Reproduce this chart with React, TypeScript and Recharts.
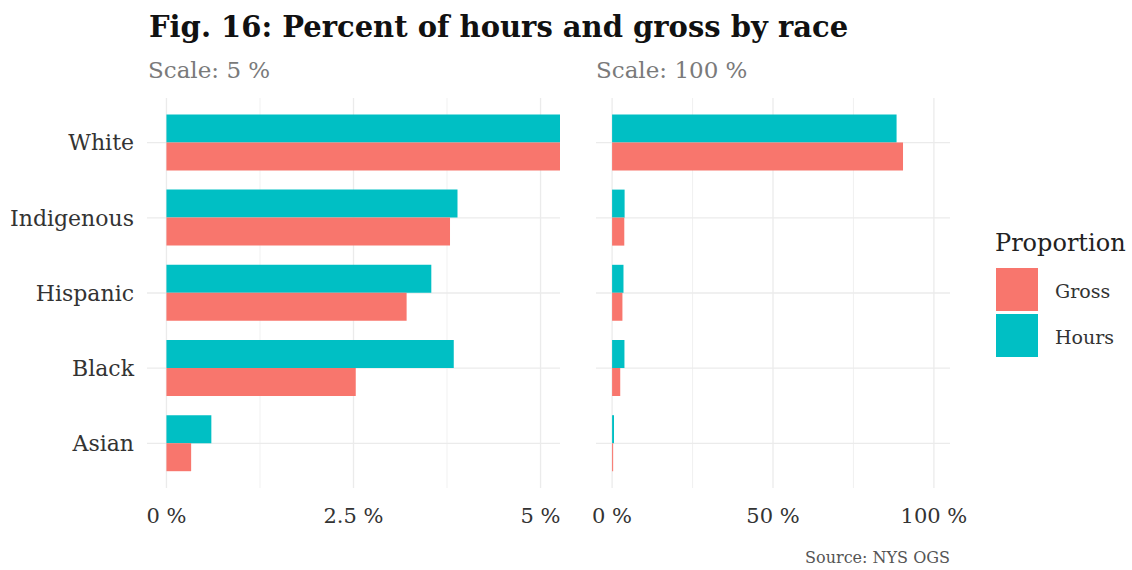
import React from "react";
import { BarChart, Bar, XAxis, YAxis, CartesianGrid } from "recharts";

const races = ["White", "Indigenous", "Hispanic", "Black", "Asian"];
const hours = [88.4, 3.89, 3.54, 3.84, 0.6];
const gross = [90.4, 3.79, 3.21, 2.53, 0.33];

const leftMajor = [0, 2.5, 5];
const leftMinor = [1.25, 3.75];
const rightMajor = [0, 50, 100];
const rightMinor = [25, 75];

const data = races.map((race, i) => ({ race, Hours: hours[i], Gross: gross[i] }));

const FONT = "'DejaVu Serif', serif";
const GROSS = "#F8766D";
const HOURS = "#00BFC4";
const GRID = "#ebebeb";

const pct = (v: number) => `${v} %`;

function Panel({
  width,
  left,
  leftPad,
  rightPad,
  domain,
  major,
  minor,
  showY,
}: {
  width: number;
  left: number;
  leftPad: number;
  rightPad: number;
  domain: [number, number];
  major: number[];
  minor: number[];
  showY: boolean;
}) {
  return (
    <div style={{ position: "absolute", left, top: 98 }}>
      <BarChart
        width={width}
        height={440}
        data={data}
        layout="vertical"
        margin={{ top: 0, right: rightPad, bottom: 0, left: leftPad }}
        barCategoryGap="12.5%"
        barGap={0}
      >
        <CartesianGrid
          xAxisId="minor"
          stroke={GRID}
          strokeWidth={0.7}
          horizontal={false}
          syncWithTicks
        />
        <CartesianGrid xAxisId="main" stroke={GRID} strokeWidth={1.3} syncWithTicks />
        <XAxis xAxisId="minor" type="number" domain={domain} ticks={minor} allowDataOverflow hide />
        <XAxis
          xAxisId="main"
          type="number"
          domain={domain}
          ticks={major}
          allowDataOverflow
          axisLine={false}
          tickLine={false}
          tickSize={0}
          tickMargin={20}
          height={50}
          interval={0}
          tickFormatter={pct}
          tick={{ fill: "#333", fontSize: 21, fontFamily: FONT }}
        />
        <YAxis
          type="category"
          dataKey="race"
          width={showY ? 147 : 0}
          hide={!showY}
          axisLine={false}
          tickLine={false}
          tickSize={0}
          tickMargin={13}
          padding={{ top: 7, bottom: 7 }}
          tick={{ fill: "#333", fontSize: 22, fontFamily: FONT }}
        />
        <Bar xAxisId="main" dataKey="Hours" fill={HOURS} isAnimationActive={false} />
        <Bar xAxisId="main" dataKey="Gross" fill={GROSS} isAnimationActive={false} />
      </BarChart>
    </div>
  );
}

export default function App() {
  return (
    <div
      style={{
        position: "absolute",
        left: 0,
        top: 0,
        width: 1132,
        height: 570,
        background: "#fff",
        fontFamily: FONT,
        overflow: "hidden",
      }}
    >
      <div
        style={{
          position: "absolute",
          left: 149,
          top: 10,
          fontSize: 29,
          fontWeight: "bold",
          color: "#111",
          whiteSpace: "nowrap",
        }}
      >
        Fig. 16: Percent of hours and gross by race
      </div>
      <div style={{ position: "absolute", left: 148, top: 57, fontSize: 23, color: "#7a7a7a" }}>
        Scale: 5 %
      </div>
      <div style={{ position: "absolute", left: 596, top: 57, fontSize: 23, color: "#7a7a7a" }}>
        Scale: 100 %
      </div>

      <Panel width={560} left={0} leftPad={0} rightPad={0} domain={[-0.26, 5.26]} major={leftMajor} minor={leftMinor} showY />
      <Panel width={430} left={566} leftPad={30} rightPad={46} domain={[-5, 105]} major={rightMajor} minor={rightMinor} showY={false} />

      <div style={{ position: "absolute", left: 995, top: 229, fontSize: 24, color: "#222" }}>
        Proportion
      </div>
      {[
        { name: "Gross", color: GROSS, top: 268 },
        { name: "Hours", color: HOURS, top: 314 },
      ].map((k) => (
        <div key={k.name}>
          <div
            style={{
              position: "absolute",
              left: 996,
              top: k.top,
              width: 42,
              height: 43,
              background: k.color,
            }}
          />
          <div
            style={{
              position: "absolute",
              left: 1055,
              top: k.top + 12,
              fontSize: 19,
              color: "#333",
            }}
          >
            {k.name}
          </div>
        </div>
      ))}

      <div
        style={{
          position: "absolute",
          right: 1132 - 950,
          top: 548,
          fontSize: 16,
          color: "#555",
          whiteSpace: "nowrap",
        }}
      >
        Source: NYS OGS
      </div>
    </div>
  );
}
